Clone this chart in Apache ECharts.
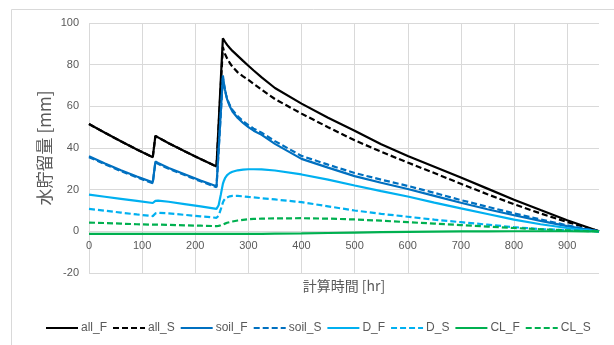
<!DOCTYPE html>
<html>
<head>
<meta charset="utf-8">
<script src="https://cdn.jsdelivr.net/npm/echarts@6/dist/echarts.min.js"></script>
<style>
html,body{margin:0;padding:0;background:#fff;}
#c{width:614px;height:345px;}
</style>
</head>
<body>
<div id="c"></div>
<script>
// time [hr]
var hours = [0,30,60,90,120,125,130,150,180,210,240,244,248,252,254,256,258,260,265,270,280,290,300,310,325,350,400,450,500,550,600,650,700,750,800,850,900,930,960];

var allF  = [51.5,47.3,43.2,39.3,35.6, 45.8,45.1,42.3,38.4,34.7, 31.1,51.6,72.2,92.7,91.8, 91.0,90.2,89.5,88.0,86.6, 84.2,81.8,79.5,77.2,73.9, 68.8,61.3,54.5,48.3,41.8, 36.2,31.0,25.8,20.5,15.2, 10.2,5.3,2.7,0];
var allS  = [51.5,47.3,43.2,39.3,35.6, 45.8,45.1,42.3,38.4,34.7, 31.1,50.2,69.4,88.5,86.6, 85.2,84.0,83.0,80.8,79.0, 76.3,74.4,72.7,70.8,68.0, 63.5,56.5,50.0,43.7,38.2, 33.0,28.0,22.8,17.8,13.0, 8.6,4.5,2.3,0];
var soilF = [36.0,32.6,29.3,26.3,23.5, 33.5,32.8,30.4,27.4,24.4, 21.6,39.3,57.0,74.8,71.0, 68.0,65.5,63.3,60.0,57.5, 54.4,52.0,50.0,48.3,46.3, 42.0,34.8,30.6,26.5,23.3, 20.3,17.0,13.7,10.6,7.7, 5.0,2.5,1.2,0];
var soilS = [35.6,32.2,28.9,25.9,23.1, 33.1,32.4,30.0,27.0,24.0, 21.2,38.5,56.0,73.5,70.5, 67.8,65.6,63.6,60.6,58.3, 55.2,52.9,51.0,49.3,47.3, 43.3,36.2,32.0,28.0,24.8, 21.8,18.5,15.0,11.8,8.6, 5.7,2.9,1.4,0];
var dF    = [17.6,16.6,15.6,14.6,13.6, 14.6,14.7,14.2,13.1,12.0, 10.8,12.5,17.5,22.8,24.3, 25.5,26.3,27.0,28.0,28.6, 29.3,29.6,29.8,29.8,29.7, 29.2,27.3,24.8,22.0,19.3, 16.7,13.8,11.0,8.3,5.6, 3.4,1.6,0.7,0];
var dS    = [10.8,9.9,9.0,8.1,7.3, 8.6,8.9,8.6,7.9,7.2, 6.5,7.5,10.5,13.8,14.9, 15.6,16.1,16.4,16.8,17.0, 17.0,16.8,16.5,16.3,15.9, 15.3,14.0,12.0,10.0,8.4, 7.0,5.6,4.4,3.2,2.0, 1.1,0.5,0.2,0];
var clF   = [-1.2,-1.2,-1.2,-1.2,-1.2, -1.2,-1.2,-1.2,-1.2,-1.2, -1.25,-1.25,-1.25,-1.25,-1.25, -1.25,-1.25,-1.25,-1.25,-1.25, -1.2,-1.2,-1.2,-1.2,-1.2, -1.1,-1.0,-0.8,-0.6,-0.4, -0.25,-0.15,-0.05,0,0.05, 0.05,0.05,0.02,0];
var clS   = [4.2,4.0,3.7,3.4,3.2, 3.2,3.2,3.1,2.9,2.7, 2.5,2.6,2.9,3.3,3.5, 3.7,3.9,4.1,4.4,4.7, 5.2,5.5,5.8,5.95,6.1, 6.2,6.3,6.1,5.7,5.1, 4.4,3.7,3.0,2.3,1.6, 1.0,0.5,0.2,0];

var seriesNames = ['all_F','all_S','soil_F','soil_S','D_F','D_S','CL_F','CL_S'];
var seriesData  = [allF, allS, soilF, soilS, dF, dS, clF, clS];
var seriesColors = ['#000000','#000000','#0070C0','#0070C0','#00B0F0','#00B0F0','#00B050','#00B050'];
var seriesDashed = [false,true,false,true,false,true,false,true];

var xTitle = '計算時間 [hr]';
var yTitle = '水貯留量 [mm]';

function pairs(ys){ return hours.map(function(h,i){ return [h, ys[i]]; }); }

var series = seriesNames.map(function(n,i){
  return {
    name: n, type: 'line', data: pairs(seriesData[i]),
    symbol: 'none', smooth: false,
    lineStyle: { color: seriesColors[i], width: 2.2, type: seriesDashed[i] ? [6,3] : 'solid' },
    itemStyle: { color: seriesColors[i] },
    emphasis: { disabled: true }
  };
});

var chart = echarts.init(document.getElementById('c'), null, {renderer:'canvas'});
chart.setOption({
  animation: false,
  backgroundColor: '#ffffff',
  graphic: [{
    type: 'rect', left: 9, top: 7, z: -10,
    shape: { width: 700, height: 500 },
    style: { fill: 'none', stroke: '#d9d9d9', lineWidth: 1 }
  }],
  grid: { left: 89, top: 23, right: 15, bottom: 72, containLabel: false },
  xAxis: {
    type: 'value', min: 0, max: 960, interval: 100,
    position: 'bottom', offset: -42,
    name: xTitle, nameLocation: 'middle', nameGap: 48, nameMoveOverlap: false,
    nameTextStyle: { fontFamily: 'Noto Sans CJK JP', fontSize: 14, color: '#595959' },
    axisLine: { show: true, onZero: false, lineStyle: { color: '#d9d9d9', width: 1 } },
    axisTick: { show: false },
    axisLabel: { color: '#595959', fontSize: 11, fontFamily: 'Liberation Sans', margin: 9, showMaxLabel: false,
      formatter: function(v){ return v === 960 ? '' : String(v); } },
    splitLine: { show: true, showMaxLine: false, lineStyle: { color: '#d9d9d9', width: 1 } }
  },
  yAxis: {
    type: 'value', min: -20, max: 100, interval: 20,
    name: yTitle, nameLocation: 'middle', nameGap: 36, nameRotate: 90, nameMoveOverlap: false,
    nameTextStyle: { fontFamily: 'Noto Sans CJK JP', fontSize: 17, color: '#595959' },
    axisLine: { show: false, onZero: false },
    axisTick: { show: false },
    axisLabel: { color: '#595959', fontSize: 11, fontFamily: 'Liberation Sans', margin: 10 },
    splitLine: { show: true, lineStyle: { color: '#d9d9d9', width: 1 } }
  },
  legend: {
    left: 45, top: 322, padding: 0, itemWidth: 32, itemHeight: 14, itemGap: 5,
    itemStyle: { opacity: 0 },
    textStyle: { color: '#595959', fontSize: 12, fontFamily: 'Liberation Sans', padding: [0,0,0,-2] },
    data: seriesNames
  },
  series: series
});
</script>
</body>
</html>
